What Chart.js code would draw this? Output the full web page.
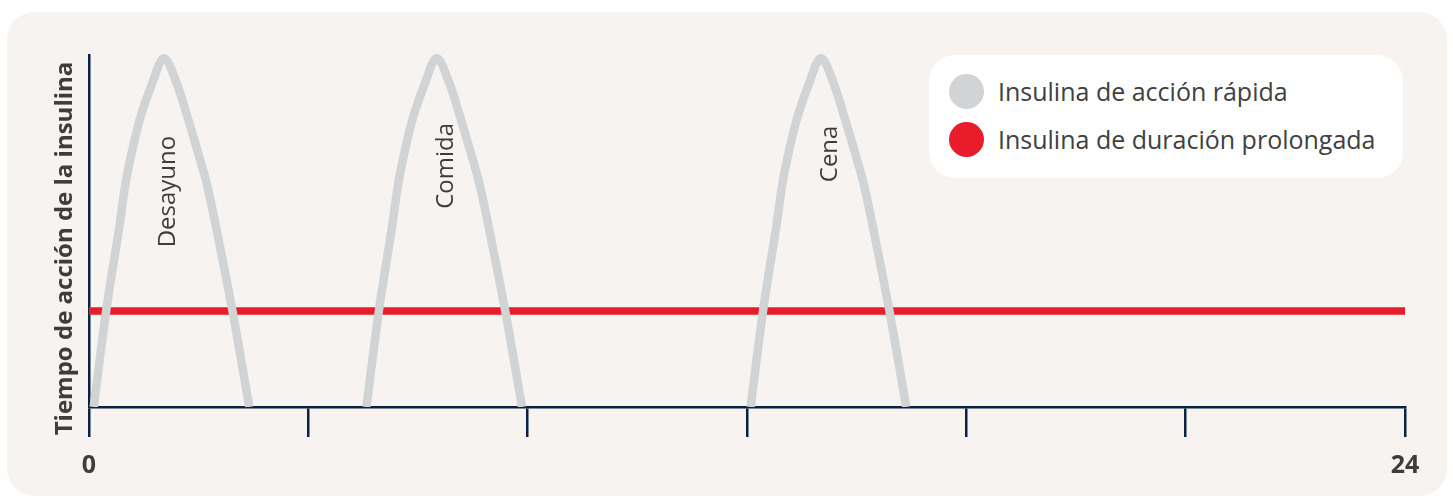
<!DOCTYPE html>
<html lang="es">
<head>
<meta charset="utf-8">
<title>Tiempo de acción de la insulina</title>
<script src="https://cdn.jsdelivr.net/npm/chart.js@4.4.1/dist/chart.umd.min.js"></script>
<style>
  html, body { margin: 0; padding: 0; background: #ffffff; }
  body { width: 1453px; height: 498px; position: relative; overflow: hidden; font-family: "Open Sans", sans-serif; }
  .panel { position: absolute; left: 7px; top: 12px; width: 1440px; height: 484px; background: #f6f3f0; border-radius: 28px; }
  .chart-wrap { position: absolute; left: 0; top: 0; width: 1453px; height: 498px; }
  .legend { position: absolute; left: 929px; top: 55px; width: 474px; height: 123px; background: #ffffff; border-radius: 26px; }
  .legend-item { position: absolute; left: 20px; height: 40px; display: flex; align-items: center; white-space: nowrap; }
  .legend-dot { width: 35px; height: 35px; border-radius: 50%; margin-right: 14px; flex: none; }
  .legend-text { font-size: 25px; color: #404040; }
</style>
</head>
<body>
<div class="panel"></div>
<div class="chart-wrap"><canvas id="insulinChart"></canvas></div>
<div class="legend" id="legend"></div>

<script>
// Hours of the day (x) and relative insulin action (y, 0-100)
const xTickValues = [0, 4, 8, 12, 16, 20, 24];
const xTickLabels = ['0', '', '', '', '', '', '24'];

// Rapid-acting doses: one arch per meal
const desayunoHours  = [0.086, 0.316, 0.558, 0.667, 0.790, 0.941, 1.154, 1.368, 1.598, 1.793, 1.975, 2.145, 2.309, 2.613, 2.923];
const desayunoValues = [0, 27.6, 51.7, 63.6, 73.0, 82.5, 92.0, 99.1, 92.0, 82.5, 73.0, 63.6, 51.7, 27.6, 0];

const comidaHours  = [5.059, 5.289, 5.531, 5.641, 5.763, 5.914, 6.128, 6.341, 6.571, 6.766, 6.948, 7.118, 7.282, 7.587, 7.897];
const comidaValues = [0, 27.6, 51.7, 63.6, 73.0, 82.5, 92.0, 99.1, 92.0, 82.5, 73.0, 63.6, 51.7, 27.6, 0];

const cenaHours  = [12.066, 12.295, 12.538, 12.647, 12.769, 12.921, 13.134, 13.348, 13.578, 13.773, 13.955, 14.125, 14.289, 14.593, 14.904];
const cenaValues = [0, 27.6, 51.7, 63.6, 73.0, 82.5, 92.0, 99.1, 92.0, 82.5, 73.0, 63.6, 51.7, 27.6, 0];

// Long-acting basal insulin: flat all day
const basalHours  = [0, 24];
const basalValues = [27.3, 27.3];

// Meal names written inside each arch
const mealNames = ['Desayuno', 'Comida', 'Cena'];
const mealLabelHours = [1.568, 6.639, 13.65];
const mealLabelValues = [61.2, 68.5, 71.9];

const seriesNames = ['Insulina de acción rápida', 'Insulina de duración prolongada'];
const yTitleText = 'Tiempo de acción de la insulina';

const GREY = '#d1d3d4';
const RED = '#e81c2b';
const NAVY = '#0b2341';
const TEXT = '#3d3d3d';

const toPoints = (xs, ys) => xs.map((x, i) => ({ x: x, y: ys[i] }));

const archStyle = {
  borderColor: GREY,
  borderWidth: 8.5,
  pointRadius: 0,
  fill: false,
  tension: 0.35,
  borderCapStyle: 'butt',
  clip: { left: 20, top: 20, right: 20, bottom: 0 }
};

const datasets = [
  Object.assign({ label: seriesNames[0], data: toPoints(desayunoHours, desayunoValues) }, archStyle),
  Object.assign({ label: seriesNames[0], data: toPoints(comidaHours, comidaValues) }, archStyle),
  Object.assign({ label: seriesNames[0], data: toPoints(cenaHours, cenaValues) }, archStyle),
  {
    label: seriesNames[1],
    data: toPoints(basalHours, basalValues),
    borderColor: RED,
    borderWidth: 7.5,
    pointRadius: 0,
    fill: false,
    borderCapStyle: 'butt',
    clip: { left: 0, top: 20, right: 0, bottom: 0 }
  }
];

// Rotated meal names, positioned through the chart scales
const mealLabelPlugin = {
  id: 'mealLabels',
  afterDatasetsDraw(chart) {
    const { ctx, scales: { x, y } } = chart;
    ctx.save();
    ctx.font = '24px "Open Sans"';
    ctx.fillStyle = TEXT;
    ctx.textAlign = 'center';
    ctx.textBaseline = 'alphabetic';
    mealNames.forEach((name, i) => {
      ctx.save();
      ctx.translate(x.getPixelForValue(mealLabelHours[i]), y.getPixelForValue(mealLabelValues[i]));
      ctx.rotate(-Math.PI / 2);
      ctx.fillText(name, 0, 0);
      ctx.restore();
    });
    ctx.restore();
  }
};

// Vertical axis title, centred on the panel
const yTitlePlugin = {
  id: 'yTitle',
  afterDraw(chart) {
    const { ctx } = chart;
    ctx.save();
    ctx.font = 'bold 24px "Open Sans"';
    ctx.fillStyle = TEXT;
    ctx.textAlign = 'center';
    ctx.textBaseline = 'alphabetic';
    ctx.translate(72, 248.5);
    ctx.rotate(-Math.PI / 2);
    ctx.fillText(yTitleText, 0, 0);
    ctx.restore();
  }
};

new Chart(document.getElementById('insulinChart'), {
  type: 'line',
  data: { datasets: datasets },
  options: {
    responsive: true,
    maintainAspectRatio: false,
    animation: false,
    events: [],
    layout: { padding: { top: 55, right: 48, bottom: 0, left: 0 } },
    plugins: { legend: { display: false }, tooltip: { enabled: false } },
    scales: {
      x: {
        type: 'linear',
        position: 'bottom',
        min: 0,
        max: 24,
        z: 1,
        afterBuildTicks: (scale) => { scale.ticks = xTickValues.map(v => ({ value: v })); },
        afterFit: (scale) => { scale.height = 91; },
        border: { display: true, color: NAVY, width: 2.5 },
        grid: { display: true, drawOnChartArea: false, drawTicks: true, tickLength: 30, color: NAVY, lineWidth: 2.5 },
        ticks: {
          autoSkip: false,
          maxRotation: 0,
          padding: 14,
          color: TEXT,
          font: { family: '"Open Sans"', weight: 'bold', size: 25 },
          callback: (value, index) => xTickLabels[index]
        }
      },
      y: {
        type: 'linear',
        min: 0,
        max: 100,
        z: 1,
        afterFit: (scale) => { scale.width = 89; },
        border: { display: true, color: NAVY, width: 2.5 },
        grid: { display: false },
        ticks: { display: false }
      }
    }
  },
  plugins: [mealLabelPlugin, yTitlePlugin]
});

// HTML legend built from the series names
const legendColors = [GREY, RED];
const legendTops = [16, 64];
const legendEl = document.getElementById('legend');
seriesNames.forEach((name, i) => {
  const item = document.createElement('div');
  item.className = 'legend-item';
  item.style.top = legendTops[i] + 'px';
  const dot = document.createElement('span');
  dot.className = 'legend-dot';
  dot.style.background = legendColors[i];
  const txt = document.createElement('span');
  txt.className = 'legend-text';
  txt.textContent = name;
  item.appendChild(dot);
  item.appendChild(txt);
  legendEl.appendChild(item);
});
</script>
</body>
</html>
